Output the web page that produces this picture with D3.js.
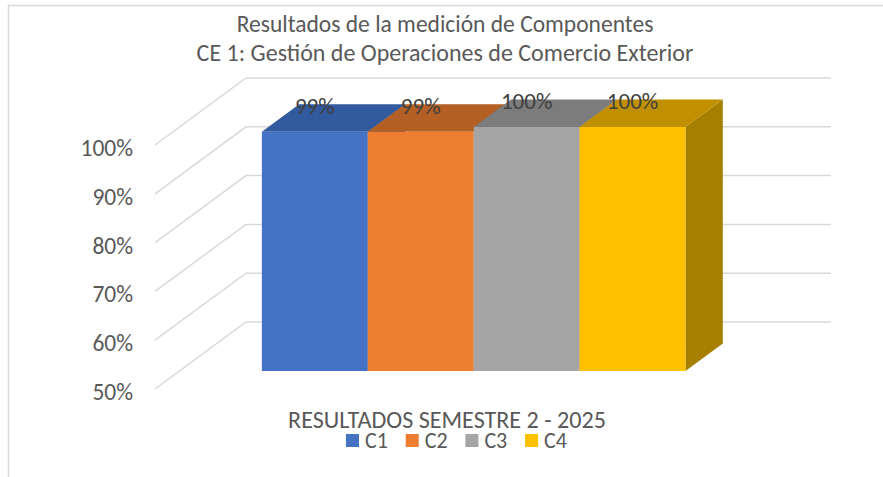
<!DOCTYPE html>
<html><head><meta charset="utf-8">
<script src="https://cdn.jsdelivr.net/npm/d3@7"></script>
<style>body{margin:0;background:#fff}svg{display:block}</style>
</head><body>
<svg id="chart" width="883" height="477"></svg>
<script>
// ---- data ----
const titleLines = ["Resultados de la medición de Componentes", "CE 1: Gestión de Operaciones de Comercio Exterior"];
const categories = ["RESULTADOS SEMESTRE 2 - 2025"];
const seriesNames = ["C1", "C2", "C3", "C4"];
const seriesValues = [0.99, 0.99, 1.0, 1.0];
const yTicks = [0.5, 0.6, 0.7, 0.8, 0.9, 1.0];
const frontColors = ["#4472C4", "#ED7D31", "#A5A5A5", "#FFC000"];
const topColors = ["#325A9E", "#B45F24", "#7C7C7C", "#C09000"];
const sideColors = ["#2A4D8A", "#A35522", "#707070", "#A67E00"];

// ---- layout ----
const FONT = "Carlito, Lato, 'Open Sans', sans-serif";
const TXT = "#595959";
const svg = d3.select("#chart");
const DX = 91, DY = 67;          // oblique depth vector
const ZF = 0.27, ZB = 0.68;      // bar depth range
const x0 = 155, x1 = 740;

const y = d3.scaleLinear().domain([0.5, 1]).range([389, 145]);
const xCat = d3.scaleBand().domain(categories).range([x0, x1]).padding(0.16).align(0.51);
const xSer = d3.scaleBand().domain(seriesNames).range([0, xCat.bandwidth()]).padding(0);
const P = (xx, v, z) => [xx + z * DX, y(v) - z * DY];

function fit(sel, w, base) {
  sel.attr("font-size", base);
  const l = sel.node().getComputedTextLength();
  sel.attr("font-size", base * w / l);
}

// border
svg.append("rect").attr("x", 8.5).attr("y", 5.5).attr("width", 1000).attr("height", 1000)
  .attr("fill", "none").attr("stroke", "#D9D9D9").attr("stroke-width", 1.5);

// title
const titleY = [31.5, 61];
const titleW = [417, 497];
titleLines.forEach((t, i) => {
  const s = svg.append("text").attr("x", 445).attr("y", titleY[i])
    .attr("text-anchor", "middle").attr("font-family", FONT).attr("fill", TXT).text(t);
  fit(s, titleW[i], 20);
});

// gridlines (side wall + back wall)
const grid = svg.append("g");
yTicks.forEach(v => {
  const a = P(x0, v, 0), b = P(x0, v, 1), c = P(x1, v, 1);
  grid.append("path").attr("d", d3.line()([a, b, c]))
    .attr("fill", "none").attr("stroke", "#D9D9D9").attr("stroke-width", 1.5);
});

// y axis
const yAxis = svg.append("g").attr("transform", "translate(133,3)")
  .call(d3.axisLeft(y).tickValues(yTicks).tickFormat(d3.format(".0%")).tickSize(0).tickPadding(0));
yAxis.select(".domain").remove();
yAxis.selectAll("text").attr("font-family", FONT).attr("font-size", 23.5).attr("fill", TXT);

// bars
const bars = svg.append("g");
seriesNames.forEach((s, i) => {
  const v = seriesValues[i];
  const bx0 = xCat(categories[0]) + xSer(s);
  const bx1 = bx0 + xSer.bandwidth();
  const side = [P(bx1, 0.5, ZF), P(bx1, 0.5, ZB), P(bx1, v, ZB), P(bx1, v, ZF)];
  const top = [P(bx0, v, ZF), P(bx1, v, ZF), P(bx1, v, ZB), P(bx0, v, ZB)];
  const front = [P(bx0, 0.5, ZF), P(bx1, 0.5, ZF), P(bx1, v, ZF), P(bx0, v, ZF)];
  bars.append("polygon").attr("points", side.join(" ")).attr("fill", sideColors[i]);
  bars.append("polygon").attr("points", top.join(" ")).attr("fill", topColors[i]);
  bars.append("polygon").attr("points", front.join(" ")).attr("fill", frontColors[i]);
});

// data labels
seriesNames.forEach((s, i) => {
  const v = seriesValues[i];
  const bx = xCat(categories[0]) + xSer(s) + xSer.bandwidth() / 2;
  const p = P(bx, v, ZF);
  svg.append("text").attr("x", p[0]).attr("y", p[1] - 26)
    .attr("text-anchor", "middle").attr("dominant-baseline", "central")
    .attr("font-family", FONT).attr("font-size", 23).attr("fill", "#404040")
    .text(d3.format(".0%")(v));
});

// category label
const cl = svg.append("text").attr("x", 447).attr("y", 428)
  .attr("text-anchor", "middle").attr("font-family", FONT).attr("fill", TXT).text(categories[0]);
fit(cl, 318, 20);

// legend
const leg = svg.append("g");
seriesNames.forEach((s, i) => {
  const lx = 346 + i * 59.7;
  leg.append("rect").attr("x", lx).attr("y", 434).attr("width", 13).attr("height", 13).attr("fill", frontColors[i]);
  leg.append("text").attr("x", lx + 19).attr("y", 448)
    .attr("font-family", FONT).attr("font-size", 22).attr("fill", TXT).text(s);
});
</script>
</body></html>
